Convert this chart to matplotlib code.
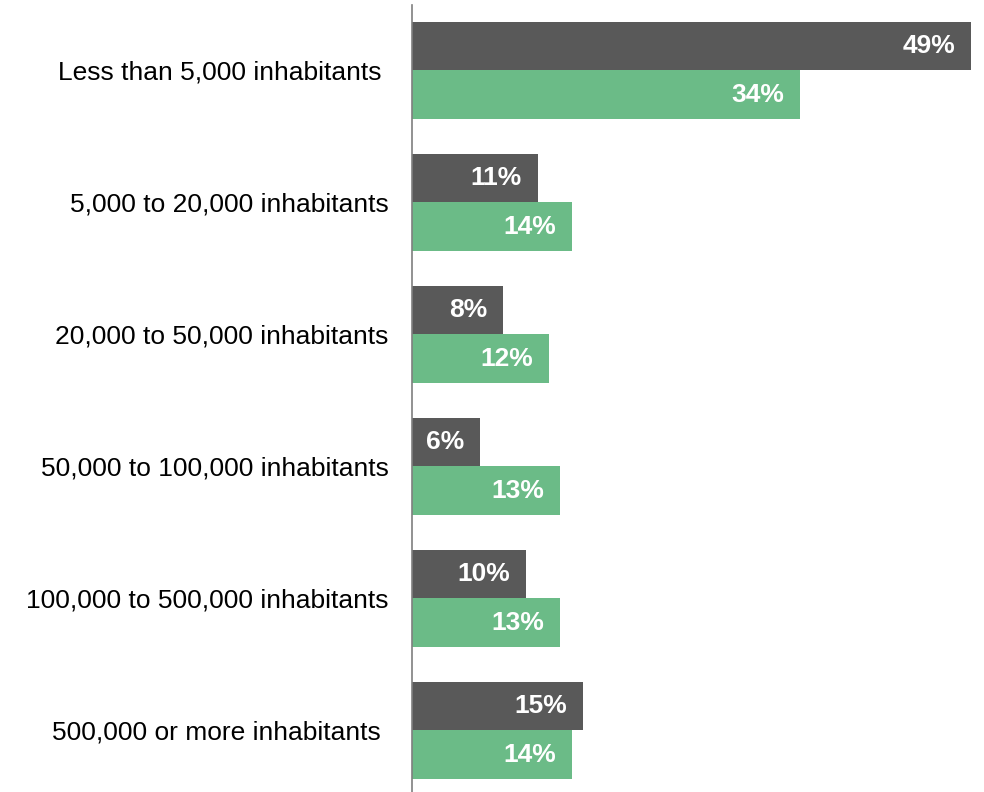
import matplotlib
matplotlib.use("Agg")
import matplotlib.pyplot as plt
import numpy as np

plt.rcParams['font.family'] = ['Liberation Sans', 'DejaVu Sans']

categories = [
    "Less than 5,000 inhabitants ",
    "5,000 to 20,000 inhabitants",
    "20,000 to 50,000 inhabitants",
    "50,000 to 100,000 inhabitants",
    "100,000 to 500,000 inhabitants",
    "500,000 or more inhabitants ",
]
series_dark = [49, 11, 8, 6, 10, 15]
series_green = [34, 14, 12, 13, 13, 14]

dark_color = "#595959"
green_color = "#6BBB87"

fig = plt.figure(figsize=(9.84, 7.92), dpi=100)
ax = fig.add_axes([412 / 984, 0, 1 - 412 / 984, 787 / 792])

y = np.arange(len(categories))
h = 0.367
ax.barh(y - h / 2, series_dark, height=h, color=dark_color)
ax.barh(y + h / 2, series_green, height=h, color=green_color)

for yi, v in zip(y, series_dark):
    ax.text(v - 1.4, yi - h / 2, f"{v}%", ha="right", va="center",
            color="white", fontsize=19, fontweight="bold")
for yi, v in zip(y, series_green):
    ax.text(v - 1.4, yi + h / 2, f"{v}%", ha="right", va="center",
            color="white", fontsize=19, fontweight="bold")

ax.set_xlim(0, 50.13)
ax.set_ylim(5.466, -0.496)
ax.set_yticks(y)
ax.set_yticklabels(categories, fontsize=19, color="black")
ax.tick_params(axis="y", length=0, pad=17)
ax.set_xticks([])
for s in ["top", "right", "bottom"]:
    ax.spines[s].set_visible(False)
ax.spines["left"].set_color("#7F7F7F")
ax.spines["left"].set_linewidth(1.2)

fig.savefig("out.png", dpi=100)
